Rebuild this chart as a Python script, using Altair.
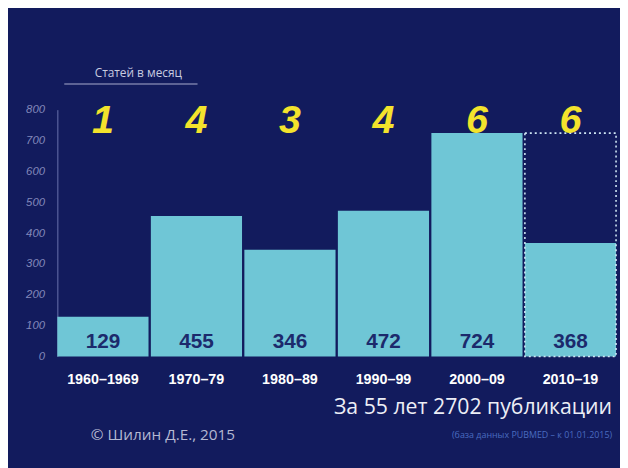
import altair as alt
import pandas as pd

periods = ["1960–1969", "1970–79", "1980–89", "1990–99", "2000–09", "2010–19"]
counts = [129, 455, 346, 472, 724, 368]
per_month = ["1", "4", "3", "4", "6", "6"]
projected_period = ["2010–19"]
projected_value = [724]
y_ticks = [0, 100, 200, 300, 400, 500, 600, 700, 800]

BG = "#121b5d"
BAR = "#6fc6d6"

df = pd.DataFrame({"period": periods, "count": counts, "per_month": per_month})
proj = pd.DataFrame({"period": projected_period, "count": projected_value})
one = pd.DataFrame({"k": [0]})

x_axis = alt.Axis(title=None, labelColor="#ffffff", labelFont="Liberation Sans",
                  labelFontWeight="bold", labelFontSize=14.5, labelAngle=0,
                  labelPadding=16, domain=False, ticks=False)
x_scale = alt.Scale(paddingInner=0.025, paddingOuter=0)
y_axis = alt.Axis(title=None, values=y_ticks, labelColor="#8288ba",
                  labelFont="Liberation Sans", labelFontStyle="italic", labelFontSize=11.5,
                  labelPadding=13, labelOverlap=False, ticks=False, grid=False,
                  domainColor="#6a73ad", domainWidth=1)
y_scale = alt.Scale(domain=[0, 800], nice=False)

def xenc():
    return alt.X("period:N", sort=periods, scale=x_scale, axis=x_axis)

def yenc():
    return alt.Y("count:Q", scale=y_scale, axis=y_axis)

bars = alt.Chart(df).mark_bar(color=BAR).encode(x=xenc(), y=yenc())

dotted = alt.Chart(proj).mark_bar(
    fillOpacity=0, stroke="#cfe6f4", strokeDash=[2, 3], strokeWidth=1.6
).encode(x=xenc(), y=yenc())

values = alt.Chart(df).mark_text(
    font="Liberation Sans", fontWeight="bold", fontSize=21, color="#1c2a6c", baseline="middle"
).encode(x=xenc(), y=alt.value(235), text="count:Q")

rate = alt.Chart(df).mark_text(
    font="Liberation Sans", fontWeight="bold", fontStyle="italic", fontSize=40,
    color="#f3e32c", baseline="middle"
).encode(x=xenc(), y=alt.value(12), text="per_month:N")

base = alt.Chart(one)
rate_title = base.mark_text(font="Open Sans", fontSize=12, color="#c9cce0",
                            baseline="middle").encode(
    x=alt.value(82), y=alt.value(-37), text=alt.value("Статей в месяц"))
underline = base.mark_rule(color="#a7acce", strokeWidth=1.2).encode(
    x=alt.value(7), x2=alt.value(142), y=alt.value(-26))
total = base.mark_text(font="Open Sans", fontSize=21.5, color="#eceef6", align="right",
                       baseline="middle").encode(
    x=alt.value(562), y=alt.value(302), text=alt.value("За 55 лет 2702 публикации"))
author = base.mark_text(font="Open Sans", fontSize=15.5, color="#b4b8d2",
                        baseline="middle").encode(
    x=alt.value(107), y=alt.value(330), text=alt.value("© Шилин Д.Е., 2015"))
source = base.mark_text(font="Open Sans", fontSize=9, color="#4a6cc0", align="right",
                        baseline="middle").encode(
    x=alt.value(562), y=alt.value(330), text=alt.value("(база данных PUBMED – к 01.01.2015)"))

chart = alt.layer(
    bars, dotted, values, rate, rate_title, underline, total, author, source
).properties(
    width=566, height=250, background=BG,
    padding={"left": 50, "top": 100, "right": 4, "bottom": 110},
    autosize=alt.AutoSizeParams(type="none"),
).configure_view(stroke=None)

chart.save("out.html", embed_options={"renderer": "svg", "actions": False})
